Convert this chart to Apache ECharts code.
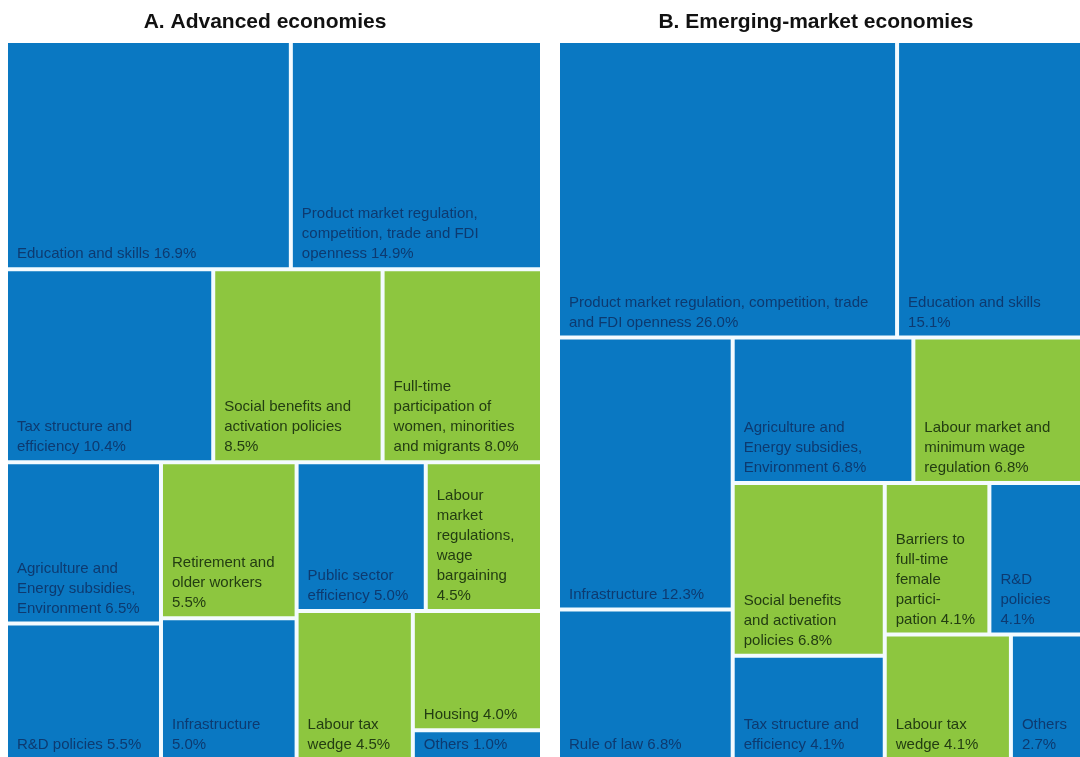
<!DOCTYPE html>
<html>
<head>
<meta charset="utf-8">
<script src="https://cdn.jsdelivr.net/npm/echarts@6/dist/echarts.min.js"></script>
<style>
html,body{margin:0;padding:0;background:#ffffff;}
#chart{width:1080px;height:757px;}
</style>
</head>
<body>
<div id="chart"></div>
<script>
// ---------- Data ----------
const titleA = 'A. Advanced economies';
const titleB = 'B. Emerging-market economies';

// Panel A: label text (line breaks as in the original), shares in %, policy type
const labelsA = [
  'Education and skills ',
  'Product market regulation,\ncompetition, trade and FDI\nopenness ',
  'Tax structure and\nefficiency ',
  'Social benefits and\nactivation policies\n',
  'Full-time\nparticipation of\nwomen, minorities\nand migrants ',
  'Agriculture and\nEnergy subsidies,\nEnvironment ',
  'R&D policies ',
  'Retirement and\nolder workers\n',
  'Infrastructure\n',
  'Public sector\nefficiency ',
  'Labour\nmarket\nregulations,\nwage\nbargaining\n',
  'Labour tax\nwedge ',
  'Housing ',
  'Others '
];
const valuesA = [16.9, 14.9, 10.4, 8.5, 8.0, 6.5, 5.5, 5.5, 5.0, 5.0, 4.5, 4.5, 4.0, 1.0];
const kindsA  = ['b', 'b', 'b', 'g', 'g', 'b', 'b', 'g', 'b', 'b', 'g', 'g', 'g', 'b'];
// grouping of the tiles (indices into the arrays above)
const groupsA = [[0, 1], [[2, 3, 4], [[[5, 6], [7, 8]], [9, 10, [11, [12, 13]]]]]];

// Panel B
const labelsB = [
  'Product market regulation, competition, trade\nand FDI openness ',
  'Education and skills\n',
  'Infrastructure ',
  'Rule of law ',
  'Agriculture and\nEnergy subsidies,\nEnvironment ',
  'Labour market and\nminimum wage\nregulation ',
  'Social benefits\nand activation\npolicies ',
  'Tax structure and\nefficiency ',
  'Barriers to\nfull-time\nfemale\npartici-\npation ',
  'R&D\npolicies\n',
  'Labour tax\nwedge ',
  'Others\n'
];
const valuesB = [26.0, 15.1, 12.3, 6.8, 6.8, 6.8, 6.8, 4.1, 4.1, 4.1, 4.1, 2.7];
const kindsB  = ['b', 'b', 'b', 'b', 'b', 'g', 'g', 'b', 'g', 'b', 'g', 'b'];
const groupsB = [[0, 1], [[2, 3], [4, 5, [[6, 7], [8, 9, [10, 11]]]]]];

// ---------- Styling ----------
const FILL = { b: '#0a78c2', g: '#8dc63f' };
const TEXT = { b: '#0d3a70', g: '#233d12' };
const GAP = '#f3fbff';
const FONT = 'Liberation Sans, Arial, sans-serif';

function buildTree(spec, labels, values, kinds) {
  return spec.map(function (s) {
    if (Array.isArray(s)) {
      return { name: '', children: buildTree(s, labels, values, kinds) };
    }
    return {
      name: labels[s] + values[s].toFixed(1) + '%',
      value: values[s],
      itemStyle: { color: FILL[kinds[s]] },
      label: { color: TEXT[kinds[s]] }
    };
  });
}

function treemapSeries(data, left, ratio) {
  return {
    type: 'treemap',
    left: left, top: 43, width: 532, height: 715,
    squareRatio: ratio,
    sort: false,
    roam: false,
    nodeClick: false,
    silent: true,
    animation: false,
    breadcrumb: { show: false },
    itemStyle: { borderWidth: 0, gapWidth: 4, borderColor: GAP },
    upperLabel: { show: false },
    label: {
      show: true,
      position: 'insideBottomLeft',
      distance: 0,
      padding: [0, 2, 3, 9],
      fontFamily: FONT,
      fontSize: 15,
      lineHeight: 20,
      overflow: 'none'
    },
    data: data
  };
}

const chart = echarts.init(document.getElementById('chart'), null, { renderer: 'canvas' });
chart.setOption({
  backgroundColor: '#ffffff',
  animation: false,
  title: [
    { text: titleA, left: 260, top: 7, textAlign: 'center',
      textStyle: { fontFamily: FONT, fontSize: 21, fontWeight: 'bold', color: '#111111' } },
    { text: titleB, left: 811, top: 7, textAlign: 'center',
      textStyle: { fontFamily: FONT, fontSize: 21, fontWeight: 'bold', color: '#111111' } }
  ],
  series: [
    treemapSeries(buildTree(groupsA, labelsA, valuesA, kindsA), 8, 1.21),
    treemapSeries(buildTree(groupsB, labelsB, valuesB, kindsB), 560, 1.0)
  ]
});
</script>
</body>
</html>
